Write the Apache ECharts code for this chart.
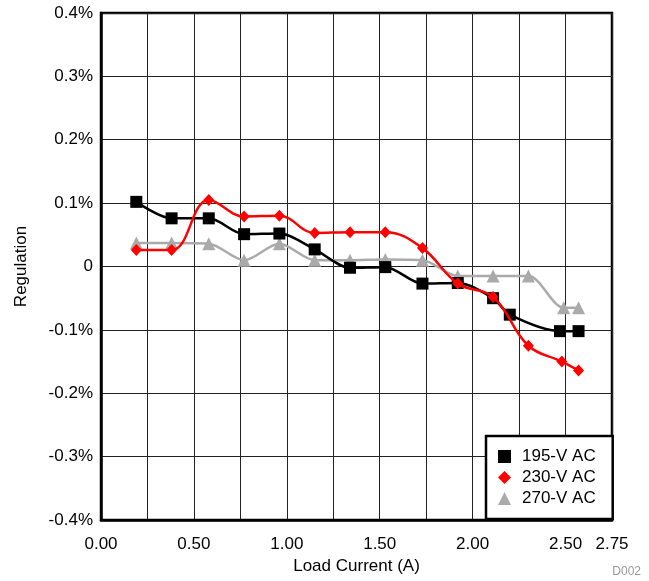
<!DOCTYPE html>
<html>
<head>
<meta charset="utf-8">
<script src="https://cdn.jsdelivr.net/npm/echarts@6/dist/echarts.min.js"></script>
<style>
html,body{margin:0;padding:0;background:#fff;}
#chart{width:649px;height:581px;}
</style>
</head>
<body>
<div id="chart"></div>
<script>
// Data (regulation in %)
var seriesNames = ['195-V AC', '230-V AC', '270-V AC'];
var x195 = [0.19, 0.38, 0.58, 0.77, 0.96, 1.15, 1.34, 1.53, 1.73, 1.92, 2.11, 2.20, 2.47, 2.57];
var y195 = [0.102, 0.076, 0.076, 0.051, 0.052, 0.027, -0.002, -0.001, -0.027, -0.026, -0.050, -0.076, -0.102, -0.102];
var x230 = [0.19, 0.38, 0.58, 0.77, 0.96, 1.15, 1.34, 1.53, 1.73, 1.92, 2.11, 2.30, 2.48, 2.57];
var y230 = [0.026, 0.026, 0.105, 0.079, 0.080, 0.053, 0.054, 0.054, 0.029, -0.027, -0.048, -0.125, -0.150, -0.164];
var x270 = [0.19, 0.38, 0.58, 0.77, 0.96, 1.15, 1.34, 1.53, 1.73, 1.92, 2.11, 2.30, 2.49, 2.57];
var y270 = [0.037, 0.037, 0.036, 0.010, 0.036, 0.010, 0.010, 0.011, 0.010, -0.015, -0.015, -0.015, -0.065, -0.065];
var xTickLabels = ['0.00', '0.50', '1.00', '1.50', '2.00', '2.50', '2.75'];

function zip(xs, ys) { return xs.map(function (x, i) { return [x, ys[i]]; }); }

var font = 'Liberation Sans, Arial, sans-serif';
var chart = echarts.init(document.getElementById('chart'), null, {renderer: 'canvas'});
var option = {
  animation: false,
  backgroundColor: '#fff',
  grid: {left: 101, right: 37, top: 13, bottom: 61, show: true, borderColor: '#000', borderWidth: 2.5, containLabel: false},
  xAxis: {
    type: 'value', min: 0, max: 2.75, interval: 0.25,
    name: 'Load Current (A)', nameLocation: 'middle', nameGap: 34,
    nameTextStyle: {fontSize: 17, color: '#000', fontFamily: font},
    axisLine: {show: true, onZero: false, lineStyle: {color: '#000', width: 2.5}},
    axisTick: {show: false},
    axisLabel: {
      margin: 16, fontSize: 17, color: '#000', fontFamily: font,
      showMinLabel: true, showMaxLabel: true,
      formatter: function (v) {
        var s = v.toFixed(2);
        return xTickLabels.indexOf(s) >= 0 ? s : '';
      }
    },
    splitLine: {show: true, lineStyle: {color: '#222', width: 1}}
  },
  yAxis: {
    type: 'value', min: -0.4, max: 0.4, interval: 0.1,
    name: 'Regulation', nameLocation: 'middle', nameGap: 71,
    nameTextStyle: {fontSize: 17, color: '#000', fontFamily: font},
    axisLine: {show: true, onZero: false, lineStyle: {color: '#000', width: 2.5}},
    axisTick: {show: false},
    axisLabel: {
      margin: 8, fontSize: 17, color: '#000', fontFamily: font,
      formatter: function (v) { return Math.abs(v) < 1e-9 ? '0' : v.toFixed(1) + '%'; }
    },
    splitLine: {show: true, lineStyle: {color: '#222', width: 1}}
  },
  legend: {
    orient: 'vertical', left: 486, top: 436,
    padding: [10, 17, 10, 12],
    backgroundColor: '#fff', borderColor: '#000', borderWidth: 2.5,
    itemWidth: 13, itemHeight: 13, itemGap: 0,
    textStyle: {fontSize: 17, color: '#000', fontFamily: font, lineHeight: 21, padding: [0, 0, 0, 6]},
    data: [
      {name: seriesNames[0], icon: 'rect'},
      {name: seriesNames[1], icon: 'diamond'},
      {name: seriesNames[2], icon: 'triangle'}
    ]
  },
  graphic: [{
    type: 'text', right: 8, bottom: 3,
    style: {text: 'D002', fill: '#999', fontSize: 12, fontFamily: font}
  }],
  series: [
    {
      name: seriesNames[2], type: 'line', smooth: 0.3, data: zip(x270, y270),
      symbol: 'triangle', symbolSize: 13,
      itemStyle: {color: '#aaaaaa'}, lineStyle: {color: '#aaaaaa', width: 2.5}, z: 2
    },
    {
      name: seriesNames[0], type: 'line', smooth: 0.3, data: zip(x195, y195),
      symbol: 'rect', symbolSize: 12,
      itemStyle: {color: '#000'}, lineStyle: {color: '#000', width: 2.5}, z: 3
    },
    {
      name: seriesNames[1], type: 'line', smooth: 0.4, data: zip(x230, y230),
      symbol: 'diamond', symbolSize: [11, 12],
      itemStyle: {color: '#ff0000'}, lineStyle: {color: '#ff0000', width: 2.5}, z: 4
    }
  ]
};
chart.setOption(option);
</script>
</body>
</html>
